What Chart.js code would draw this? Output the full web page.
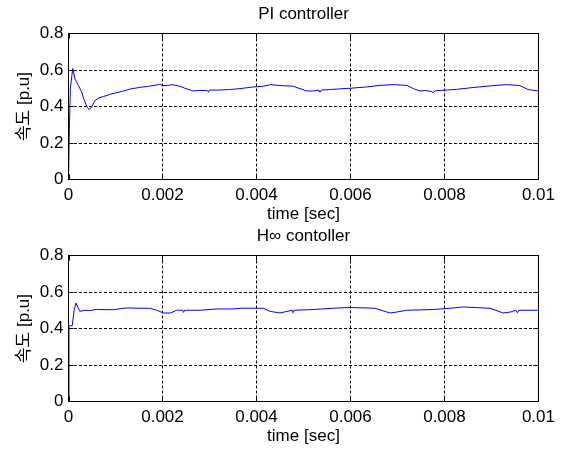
<!DOCTYPE html>
<html>
<head>
<meta charset="utf-8">
<script src="https://cdn.jsdelivr.net/npm/chart.js@4/dist/chart.umd.min.js"></script>
<style>
  html, body { margin: 0; padding: 0; background: #fff; }
  #wrap { position: relative; width: 561px; height: 450px; overflow: hidden; }
  canvas { position: absolute; left: 0; }
</style>
</head>
<body>
<div id="wrap">
  <canvas id="c1" width="561" height="225" style="top:0px"></canvas>
  <canvas id="c2" width="561" height="225" style="top:222px"></canvas>
</div>
<script>
// ---- data ----
const titles = ["PI controller", "H\u221E contoller"];
const xTitle = "time [sec]";
const yTitle = "속도 [p.u]";
const xTicks = [0, 0.002, 0.004, 0.006, 0.008, 0.01];
const xTickLabels = ["0", "0.002", "0.004", "0.006", "0.008", "0.01"];
const yTicks = [0, 0.2, 0.4, 0.6, 0.8];
const yTickLabels = ["0", "0.2", "0.4", "0.6", "0.8"];

const timesPI = [0, 0.00002, 0.00004, 0.00009, 0.00014, 0.00021, 0.00028, 0.00032, 0.00039, 0.00044, 0.00049, 0.00056, 0.00065, 0.00075, 0.0009, 0.0011, 0.0013, 0.00152, 0.00168, 0.00184, 0.00194, 0.002, 0.0021, 0.0022, 0.00237, 0.0025, 0.00266, 0.0028, 0.00295, 0.00298, 0.003, 0.0032, 0.00343, 0.00365, 0.00393, 0.00414, 0.0043, 0.0045, 0.00478, 0.00507, 0.00521, 0.00533, 0.00535, 0.00538, 0.00556, 0.00599, 0.00634, 0.00663, 0.00695, 0.0072, 0.00734, 0.00748, 0.0076, 0.00772, 0.00776, 0.0078, 0.00797, 0.00826, 0.00861, 0.00897, 0.00932, 0.0096, 0.00978, 0.01];
const speedPI = [0, 0.3, 0.5, 0.608, 0.55, 0.515, 0.48, 0.445, 0.4, 0.383, 0.397, 0.432, 0.448, 0.455, 0.468, 0.48, 0.495, 0.505, 0.51, 0.516, 0.522, 0.515, 0.515, 0.52, 0.511, 0.498, 0.485, 0.488, 0.488, 0.478, 0.49, 0.49, 0.493, 0.498, 0.507, 0.511, 0.52, 0.515, 0.511, 0.485, 0.485, 0.49, 0.478, 0.49, 0.493, 0.5, 0.507, 0.516, 0.52, 0.515, 0.498, 0.485, 0.488, 0.482, 0.476, 0.486, 0.489, 0.494, 0.504, 0.513, 0.52, 0.515, 0.493, 0.485];

const timesHinf = [0, 0.00001, 0.00008, 0.00012, 0.00016, 0.0002, 0.00024, 0.00035, 0.00045, 0.0006, 0.0008, 0.00095, 0.0011, 0.00124, 0.0015, 0.00173, 0.00188, 0.00202, 0.00217, 0.0023, 0.00243, 0.00245, 0.00247, 0.0028, 0.00315, 0.0035, 0.00365, 0.00414, 0.00429, 0.0045, 0.00476, 0.00478, 0.0048, 0.00521, 0.00563, 0.00599, 0.00652, 0.00684, 0.00698, 0.0072, 0.00776, 0.00812, 0.0084, 0.00897, 0.00925, 0.0094, 0.00952, 0.00955, 0.00958, 0.01];
const speedHinf = [0, 0.415, 0.415, 0.5, 0.54, 0.515, 0.494, 0.5, 0.498, 0.505, 0.503, 0.503, 0.508, 0.513, 0.511, 0.511, 0.5, 0.485, 0.485, 0.5, 0.5, 0.488, 0.5, 0.5, 0.507, 0.507, 0.511, 0.511, 0.494, 0.485, 0.5, 0.486, 0.5, 0.504, 0.511, 0.515, 0.511, 0.485, 0.49, 0.5, 0.504, 0.511, 0.518, 0.511, 0.485, 0.49, 0.5, 0.486, 0.5, 0.5];

// ---- styling ----
const FONT = 'Arial, "Liberation Sans", "Noto Sans CJK KR", sans-serif';
const FS = 17;

const framePlugin = {
  id: 'frame',
  afterDraw(chart) {
    const { ctx, chartArea: { left, top, right, bottom } } = chart;
    const xs = chart.scales.x, ys = chart.scales.y;
    ctx.save();
    ctx.setLineDash([]);
    ctx.strokeStyle = '#000';
    ctx.lineWidth = 1;
    ctx.strokeRect(left, top, right - left, bottom - top);
    const tl = 5;
    ctx.beginPath();
    xTicks.forEach(v => {
      const px = Math.round(xs.getPixelForValue(v)) + 0.5;
      ctx.moveTo(px, bottom); ctx.lineTo(px, bottom - tl);
      ctx.moveTo(px, top); ctx.lineTo(px, top + tl);
    });
    yTicks.forEach(v => {
      const py = Math.round(ys.getPixelForValue(v) - 0.5) + 0.5;
      ctx.moveTo(left, py); ctx.lineTo(left + tl, py);
      ctx.moveTo(right, py); ctx.lineTo(right - tl, py);
    });
    ctx.stroke();
    ctx.restore();
  }
};

function makeChart(id, title, times, speeds) {
  const pts = times.map((t, i) => ({ x: t, y: speeds[i] }));
  return new Chart(document.getElementById(id), {
    type: 'line',
    data: { datasets: [{ data: pts, borderColor: '#0000ff', borderWidth: 1, pointRadius: 0, tension: 0, fill: false }] },
    options: {
      responsive: false,
      animation: false,
      events: [],
      layout: { padding: { left: 0, right: 22.5, top: 0, bottom: 0 } },
      plugins: { legend: { display: false }, tooltip: { enabled: false }, title: { display: false } },
      scales: {
        x: {
          type: 'linear', position: 'bottom', min: 0, max: 0.01,
          afterBuildTicks: s => { s.ticks = xTicks.map(v => ({ value: v })); },
          afterFit: s => { s.height = 45.5; },
          ticks: { color: '#000', font: { family: FONT, size: FS }, padding: 6, maxRotation: 0, autoSkip: false,
                   callback: (v, i) => xTickLabels[i] },
          grid: { color: '#000', lineWidth: 1, drawTicks: false },
          border: { display: true, color: '#000', dash: [3, 2] },
          title: { display: true, text: xTitle, color: '#000', font: { family: FONT, size: FS }, padding: { top: 3, bottom: 0 } }
        },
        top: {
          type: 'linear', position: 'top', min: 0, max: 0.01,
          afterFit: s => { s.height = 33.5; },
          ticks: { display: false },
          grid: { display: false, drawTicks: false },
          border: { display: false },
          title: { display: true, text: title, color: '#000', font: { family: FONT, size: FS }, padding: { top: 4, bottom: 0 } }
        },
        y: {
          type: 'linear', position: 'left', min: 0, max: 0.8,
          afterBuildTicks: s => { s.ticks = yTicks.map(v => ({ value: v })); },
          afterFit: s => { s.width = 68.5; },
          ticks: { color: '#000', font: { family: FONT, size: FS }, padding: 5,
                   callback: (v, i) => yTickLabels[i] },
          grid: { color: '#000', lineWidth: 1, drawTicks: false },
          border: { display: true, color: '#000', dash: [3, 2] },
          title: { display: true, text: yTitle, color: '#000', font: { family: FONT, size: FS }, padding: { top: 14, bottom: 0 } }
        }
      }
    },
    plugins: [framePlugin]
  });
}

makeChart('c1', titles[0], timesPI, speedPI);
makeChart('c2', titles[1], timesHinf, speedHinf);
</script>
</body>
</html>
